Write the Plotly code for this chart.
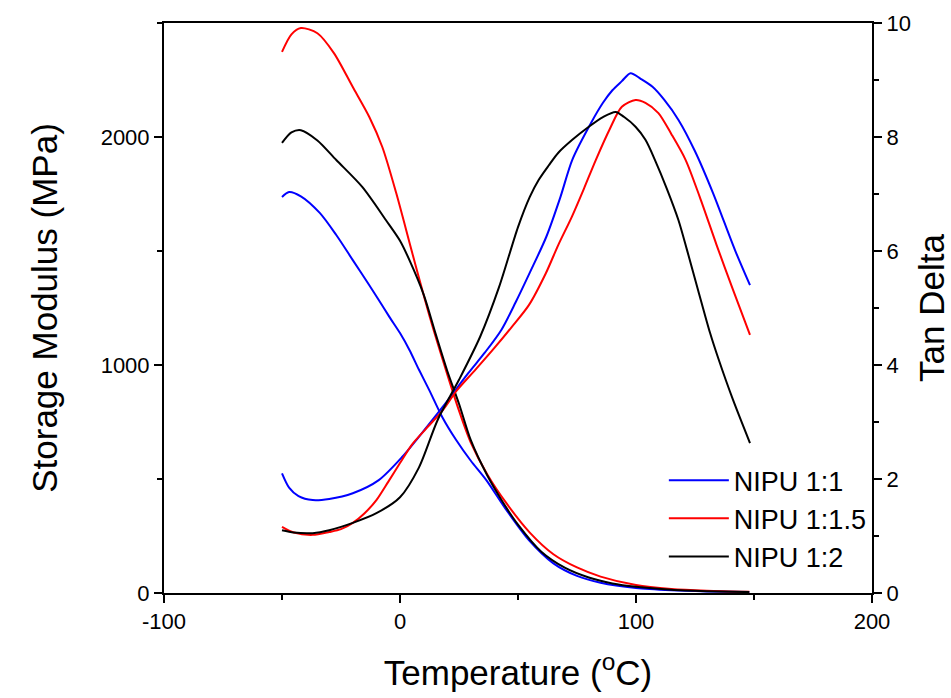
import plotly.graph_objects as go

# ---------------- data ----------------
series_names = ["NIPU 1:1", "NIPU 1:1.5", "NIPU 1:2"]
series_colors = ["#0000FF", "#FF0000", "#000000"]

# Storage modulus (MPa), left axis
t_sm_11 = [-50, -47, -42, -34, -27, -20, -13, -9, -4.5, 0, 4, 8, 12.4, 18, 23.8, 30, 36.5, 45, 54.6, 65, 75, 85, 100, 115, 130, 148]
sm_11 = [1737, 1759, 1740, 1667, 1570, 1460, 1350, 1285, 1211, 1140, 1066, 980, 890, 770, 671, 580, 496, 365, 232, 130, 75, 45, 22, 12, 7, 4]

t_sm_115 = [-50, -46, -42, -35, -28, -20, -13, -7.5, -1.6, 5.2, 13, 20, 25, 30, 37, 45, 55, 65, 75, 85, 100, 115, 130, 148]
sm_115 = [2373, 2450, 2478, 2455, 2368, 2219, 2088, 1956, 1754, 1491, 1197, 960, 800, 660, 520, 395, 265, 170, 112, 72, 35, 18, 10, 5]

t_sm_12 = [-50, -46, -42, -35, -27, -16, -6, 0, 4, 10, 15, 20, 25, 30, 37, 43, 50, 60, 70, 80, 90, 100, 115, 130, 148]
sm_12 = [1974, 2020, 2030, 1985, 1899, 1781, 1636, 1545, 1460, 1310, 1140, 975, 830, 670, 515, 408, 300, 180, 110, 68, 42, 27, 14, 8, 4]

# Tan delta, right axis
t_td_11 = [-50, -47, -43, -37, -30, -20, -9, 1, 8, 18, 29, 36, 43, 49, 55, 62, 68, 73, 81, 86, 90, 94, 97.7, 102, 107, 112, 118, 125, 132.6, 141.9, 148.3]
td_11 = [2.1, 1.85, 1.7, 1.63, 1.65, 1.75, 1.98, 2.39, 2.74, 3.26, 3.86, 4.22, 4.62, 5.1, 5.62, 6.25, 6.95, 7.6, 8.25, 8.6, 8.82, 8.98, 9.12, 9.02, 8.88, 8.65, 8.3, 7.75, 7.02, 6.02, 5.4]

t_td_115 = [-50, -45, -37, -30, -25, -20, -15, -10, -5, 0, 5, 11, 18, 24, 32, 40, 47.4, 54.6, 61.8, 67, 72.8, 78, 83, 89, 94, 99.8, 104, 109.5, 115, 121, 127, 134.2, 141, 148.3]
td_115 = [1.16, 1.06, 1.02, 1.07, 1.12, 1.23, 1.4, 1.63, 1.95, 2.28, 2.6, 2.88, 3.2, 3.55, 3.92, 4.3, 4.67, 5.05, 5.61, 6.1, 6.6, 7.1, 7.6, 8.15, 8.53, 8.65, 8.6, 8.42, 8.05, 7.6, 6.95, 6.1, 5.33, 4.53]

t_td_12 = [-50, -45, -37, -30, -20, -10, 0, 8, 16, 25, 34, 42, 50, 55, 58.8, 63, 67, 73, 80, 86, 91.4, 95, 99.8, 104, 108, 113, 118, 121.6, 126.4, 131.4, 135, 141, 148.3]
td_12 = [1.1, 1.06, 1.05, 1.1, 1.23, 1.4, 1.68, 2.2, 3.04, 3.74, 4.5, 5.37, 6.42, 6.95, 7.25, 7.5, 7.72, 7.95, 8.18, 8.35, 8.44, 8.35, 8.18, 7.95, 7.6, 7.1, 6.54, 6.02, 5.3, 4.56, 4.1, 3.4, 2.63]

x_tickvals = [-100, 0, 100, 200]
x_ticktext = ["-100", "0", "100", "200"]
y1_tickvals = [0, 1000, 2000]
y1_ticktext = ["0", "1000", "2000"]
y2_tickvals = [0, 2, 4, 6, 8, 10]
y2_ticktext = ["0", "2", "4", "6", "8", "10"]

# ---------------- figure ----------------
FONT = "Arial, Liberation Sans, sans-serif"
sm_t = [t_sm_11, t_sm_115, t_sm_12]
sm_v = [sm_11, sm_115, sm_12]
td_t = [t_td_11, t_td_115, t_td_12]
td_v = [td_11, td_115, td_12]

fig = go.Figure()
for i in range(3):
    fig.add_trace(go.Scatter(
        x=sm_t[i], y=sm_v[i], mode="lines", name=series_names[i],
        legendgroup=series_names[i], showlegend=False,
        line=dict(color=series_colors[i], width=2, shape="spline", smoothing=0.8),
        yaxis="y"))
for i in range(3):
    fig.add_trace(go.Scatter(
        x=td_t[i], y=td_v[i], mode="lines", name=series_names[i],
        legendgroup=series_names[i], showlegend=True,
        line=dict(color=series_colors[i], width=2, shape="spline", smoothing=0.8),
        yaxis="y2"))

axis_common = dict(
    showgrid=False, zeroline=False, showline=True, linecolor="black", linewidth=2,
    ticks="outside", ticklen=8, tickwidth=2, tickcolor="black", automargin=False,
    tickfont=dict(family=FONT, size=22, color="black"),
)

fig.update_layout(
    width=951, height=698,
    margin=dict(l=164, r=79, t=23, b=105),
    paper_bgcolor="white", plot_bgcolor="white",
    font=dict(family=FONT, color="black"),
    xaxis=dict(
        range=[-100, 200], tickvals=x_tickvals, ticktext=x_ticktext, mirror=True,
        minor=dict(dtick=50, tick0=-100, ticks="outside", ticklen=5, tickwidth=2, tickcolor="black"),
        title=dict(text="Temperature (<sup>o</sup>C)", font=dict(family=FONT, size=35, color="black"), standoff=27),
        **axis_common),
    yaxis=dict(
        range=[0, 2500], tickvals=y1_tickvals, ticktext=y1_ticktext,
        minor=dict(dtick=500, tick0=0, ticks="outside", ticklen=5, tickwidth=2, tickcolor="black"),
        title=dict(text="Storage Modulus (MPa)", font=dict(family=FONT, size=35, color="black"), standoff=32),
        **axis_common),
    yaxis2=dict(
        range=[0, 10], tickvals=y2_tickvals, ticktext=y2_ticktext,
        overlaying="y", side="right",
        minor=dict(dtick=1, tick0=0, ticks="outside", ticklen=5, tickwidth=2, tickcolor="black"),
        title=dict(text="Tan Delta", font=dict(family=FONT, size=35, color="black"), standoff=20),
        **axis_common),
    legend=dict(
        x=0.706, y=0.24, xanchor="left", yanchor="top",
        bgcolor="rgba(0,0,0,0)", borderwidth=0,
        font=dict(family=FONT, size=27, color="black"),
        itemwidth=60, tracegroupgap=0,
    ),
)

fig.write_html(
    "out.html",
    config={"displayModeBar": False},
    post_script="document.body.style.margin='0';document.body.style.overflow='hidden';",
)
